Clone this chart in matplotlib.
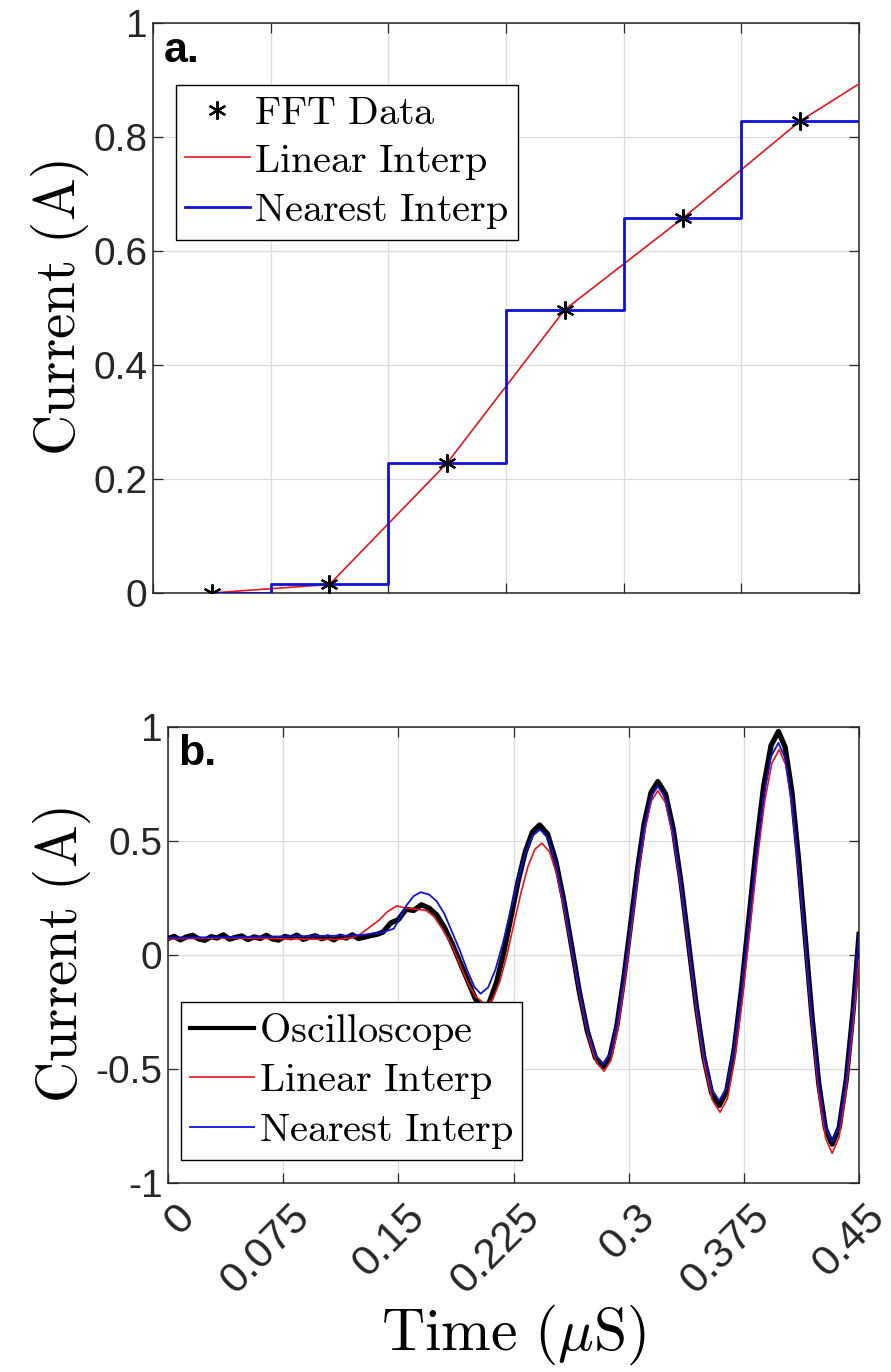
import matplotlib
matplotlib.use("Agg")
import matplotlib.pyplot as plt
from matplotlib.transforms import ScaledTranslation

plt.rcParams['mathtext.fontset'] = 'cm'
plt.rcParams['axes.unicode_minus'] = False
plt.rcParams['font.family'] = ['Liberation Sans', 'DejaVu Sans']

# panel a: FFT samples and the two interpolations (time in uS, current in A)
fft_t = [0.0375, 0.1125, 0.1875, 0.2625, 0.3375, 0.4125]
fft_i = [0.0, 0.015, 0.228, 0.497, 0.657, 0.828]

lin_a_t = [0.0375, 0.1125, 0.1875, 0.2625, 0.3375, 0.4125, 0.45]
lin_a_i = [0.0, 0.015, 0.228, 0.497, 0.657, 0.828, 0.893]

near_a_t = [0.0375, 0.075, 0.15, 0.225, 0.3, 0.375, 0.45]
near_a_i = [0.0, 0.015, 0.228, 0.497, 0.657, 0.828, 0.828]

# panel b: oscilloscope trace vs. reconstructed currents
osc_t = [0.000, 0.004, 0.008, 0.012, 0.016, 0.020, 0.024, 0.028, 0.032, 0.036, 0.040,
         0.044, 0.048, 0.052, 0.056, 0.060, 0.064, 0.068, 0.072, 0.076, 0.080, 0.084,
         0.088, 0.092, 0.096, 0.100, 0.104, 0.108, 0.112, 0.116, 0.120, 0.124, 0.128,
         0.132, 0.136, 0.140, 0.145, 0.150, 0.155, 0.160, 0.165, 0.170, 0.175, 0.180,
         0.185, 0.190, 0.195, 0.200,
         0.2045, 0.2092, 0.2139, 0.2186, 0.2233, 0.2279, 0.2326, 0.2373,
         0.2420, 0.2472, 0.2524, 0.2576, 0.2628, 0.2679, 0.2731, 0.2783,
         0.2835, 0.2879, 0.2924, 0.2968, 0.3013, 0.3057, 0.3101, 0.3146,
         0.3190, 0.3240, 0.3290, 0.3340, 0.3390, 0.3440, 0.3490, 0.3540,
         0.3590, 0.3638, 0.3686, 0.3734, 0.3783, 0.3831, 0.3879, 0.3927,
         0.3975, 0.4019, 0.4063, 0.4106, 0.4150, 0.4194, 0.4238, 0.4281,
         0.4325, 0.4371, 0.4417, 0.4463, 0.4500]
osc_i = [0.072, 0.081, 0.066, 0.079, 0.086, 0.070, 0.064, 0.080, 0.074, 0.088, 0.069,
         0.077, 0.083, 0.067, 0.079, 0.072, 0.086, 0.070, 0.065, 0.081, 0.075, 0.087,
         0.068, 0.077, 0.084, 0.071, 0.079, 0.066, 0.082, 0.074, 0.088, 0.072, 0.078,
         0.085, 0.090, 0.100, 0.140, 0.155, 0.200, 0.195, 0.220, 0.205, 0.175, 0.120,
         0.050, -0.030, -0.110, -0.190,
         -0.240, -0.209, -0.121, 0.010, 0.165, 0.320, 0.451, 0.539,
         0.570, 0.530, 0.415, 0.243, 0.040, -0.163, -0.335, -0.450,
         -0.490, -0.443, -0.307, -0.104, 0.135, 0.374, 0.577, 0.713,
         0.760, 0.706, 0.552, 0.322, 0.050, -0.222, -0.452, -0.606,
         -0.660, -0.598, -0.420, -0.154, 0.160, 0.474, 0.740, 0.918,
         0.980, 0.911, 0.715, 0.421, 0.075, -0.271, -0.565, -0.761,
         -0.830, -0.757, -0.547, -0.234, 0.090]

lin_b_t = [0.000, 0.040, 0.080, 0.110, 0.120, 0.125, 0.130, 0.137, 0.143, 0.149,
           0.155, 0.162, 0.168, 0.173, 0.179, 0.185, 0.190, 0.195, 0.200,
           0.2070, 0.2116, 0.2161, 0.2207, 0.2252, 0.2298, 0.2343, 0.2389,
           0.2434, 0.2485, 0.2536, 0.2586, 0.2637, 0.2688, 0.2739, 0.2789,
           0.2840, 0.2884, 0.2928, 0.2971, 0.3015, 0.3059, 0.3103, 0.3146,
           0.3190, 0.3241, 0.3291, 0.3342, 0.3393, 0.3443, 0.3494, 0.3544,
           0.3595, 0.3643, 0.3691, 0.3739, 0.3788, 0.3836, 0.3884, 0.3932,
           0.3980, 0.4023, 0.4066, 0.4109, 0.4153, 0.4196, 0.4239, 0.4282,
           0.4325, 0.4370, 0.4415, 0.4460, 0.4500]
lin_b_i = [0.070, 0.075, 0.070, 0.068, 0.075, 0.090, 0.115, 0.150, 0.190, 0.215,
           0.205, 0.200, 0.195, 0.170, 0.110, 0.040, -0.040, -0.120, -0.180,
           -0.220, -0.193, -0.116, -0.001, 0.135, 0.271, 0.386, 0.463,
           0.490, 0.452, 0.344, 0.181, -0.010, -0.201, -0.364, -0.472,
           -0.510, -0.463, -0.330, -0.131, 0.105, 0.341, 0.540, 0.673,
           0.720, 0.666, 0.513, 0.285, 0.015, -0.255, -0.483, -0.636,
           -0.690, -0.630, -0.457, -0.199, 0.105, 0.409, 0.667, 0.840,
           0.900, 0.833, 0.641, 0.354, 0.015, -0.324, -0.611, -0.803,
           -0.870, -0.800, -0.600, -0.310, -0.020]

near_b_t = [0.000, 0.060, 0.120, 0.130, 0.140, 0.147, 0.151, 0.155, 0.160, 0.1645,
            0.170, 0.175, 0.180, 0.185, 0.190, 0.195, 0.1995,
            0.2035, 0.2084, 0.2132, 0.2181, 0.2229, 0.2278, 0.2326, 0.2375,
            0.2423, 0.2475, 0.2526, 0.2578, 0.2629, 0.2681, 0.2732, 0.2784,
            0.2835, 0.2879, 0.2924, 0.2968, 0.3013, 0.3057, 0.3101, 0.3146,
            0.3190, 0.3240, 0.3290, 0.3340, 0.3390, 0.3440, 0.3490, 0.3540,
            0.3590, 0.3638, 0.3686, 0.3734, 0.3783, 0.3831, 0.3879, 0.3927,
            0.3975, 0.4019, 0.4063, 0.4106, 0.4150, 0.4194, 0.4238, 0.4281,
            0.4325, 0.4371, 0.4417, 0.4463, 0.4500]
near_b_i = [0.075, 0.080, 0.085, 0.090, 0.100, 0.115, 0.160, 0.215, 0.258, 0.275,
            0.265, 0.235, 0.180, 0.100, 0.020, -0.070, -0.140,
            -0.170, -0.143, -0.065, 0.052, 0.190, 0.328, 0.445, 0.523,
            0.550, 0.511, 0.399, 0.232, 0.035, -0.162, -0.329, -0.441,
            -0.480, -0.434, -0.301, -0.103, 0.130, 0.363, 0.561, 0.694,
            0.740, 0.688, 0.538, 0.314, 0.050, -0.214, -0.438, -0.588,
            -0.640, -0.580, -0.410, -0.155, 0.145, 0.445, 0.700, 0.870,
            0.930, 0.863, 0.674, 0.390, 0.055, -0.280, -0.564, -0.753,
            -0.820, -0.750, -0.540, -0.230, 0.090]

x_ticks = [0, 0.075, 0.15, 0.225, 0.3, 0.375, 0.45]
x_ticklabels = ['0', '0.075', '0.15', '0.225', '0.3', '0.375', '0.45']
ya_ticks = [0, 0.2, 0.4, 0.6, 0.8, 1]
ya_ticklabels = ['0', '0.2', '0.4', '0.6', '0.8', '1']
yb_ticks = [-1, -0.5, 0, 0.5, 1]
yb_ticklabels = ['-1', '-0.5', '0', '0.5', '1']

RED = '#e8141b'
BLUE = '#1010d8'
AX = '#262626'


def style_axes(ax):
    ax.grid(True, color='#dcdcdc', lw=0.9)
    ax.set_axisbelow(True)
    for s in ax.spines.values():
        s.set_color(AX)
        s.set_linewidth(1.1)
    ax.tick_params(direction='in', length=7, width=0.9, colors=AX,
                   top=True, right=True, labelsize=28, pad=4)


def make_legend(ax, handles, labels, anchor):
    leg = ax.legend(handles, labels, loc='upper left', bbox_to_anchor=anchor,
                    borderaxespad=0, fontsize=29, frameon=True, fancybox=False,
                    framealpha=1, edgecolor='black', handlelength=1.6,
                    handletextpad=0.12, labelspacing=0.24, borderpad=0.22)
    leg.get_frame().set_linewidth(1.0)
    return leg


fig = plt.figure(figsize=(8.91, 13.72), dpi=100)
ax1 = fig.add_axes([0.1717, 0.5678, 0.7924, 0.4155])
ax2 = fig.add_axes([0.1886, 0.1378, 0.7755, 0.3324])

# --- a. ---
l_lin, = ax1.plot(lin_a_t, lin_a_i, color=RED, lw=1.2, zorder=3)
l_near, = ax1.plot(near_a_t, near_a_i, color=BLUE, lw=2.0, drawstyle='steps-post', zorder=4)
l_fft, = ax1.plot(fft_t, fft_i, ls='none', marker=(6, 2, 0), ms=13, mew=1.6,
                  color='black', zorder=5)
ax1.set_xlim(0, 0.45)
ax1.set_ylim(0, 1)
ax1.set_xticks(x_ticks)
ax1.set_xticklabels([])
ax1.set_yticks(ya_ticks)
ax1.set_yticklabels(ya_ticklabels)
style_axes(ax1)
ax1.set_ylabel(r'$\mathrm{Current\ (A)}$', fontsize=41, labelpad=2)
ax1.text(0.015, 0.985, 'a.', transform=ax1.transAxes, fontsize=31,
         fontweight='bold', va='top', ha='left')
make_legend(ax1, [l_fft, l_lin, l_near],
            [r'$\mathrm{FFT\ Data}$', r'$\mathrm{Linear\ Interp}$', r'$\mathrm{Nearest\ Interp}$'],
            (0.033, 0.891))

# --- b. ---
l_osc, = ax2.plot(osc_t, osc_i, color='black', lw=3.8, zorder=3)
l_lin2, = ax2.plot(lin_b_t, lin_b_i, color=RED, lw=1.2, zorder=4)
l_near2, = ax2.plot(near_b_t, near_b_i, color=BLUE, lw=1.3, zorder=5)
ax2.set_xlim(0, 0.45)
ax2.set_ylim(-1, 1)
ax2.set_xticks(x_ticks)
ax2.set_xticklabels(x_ticklabels, rotation=45, ha='right', va='top',
                    rotation_mode='anchor')
ax2.set_yticks(yb_ticks)
ax2.set_yticklabels(yb_ticklabels)
style_axes(ax2)
ax2.tick_params(axis='x', labelsize=31, pad=0)
off = ScaledTranslation(0.06, -0.14, fig.dpi_scale_trans)
for lab in ax2.get_xticklabels():
    lab.set_transform(lab.get_transform() + off)
ax2.set_ylabel(r'$\mathrm{Current\ (A)}$', fontsize=41, labelpad=2)
ax2.set_xlabel(r'$\mathrm{Time\ (}\mu\mathrm{S)}$', fontsize=43)
ax2.xaxis.set_label_coords(0.5, -0.262)
ax2.text(0.015, 0.985, 'b.', transform=ax2.transAxes, fontsize=31,
         fontweight='bold', va='top', ha='left')
leg = make_legend(ax2, [l_osc, l_lin2, l_near2],
                  [r'$\mathrm{Oscilloscope}$', r'$\mathrm{Linear\ Interp}$', r'$\mathrm{Nearest\ Interp}$'],
                  (0.019, 0.397))
leg.get_lines()[0].set_linewidth(3.0)

fig.savefig('out.png', dpi=100, facecolor='white')
